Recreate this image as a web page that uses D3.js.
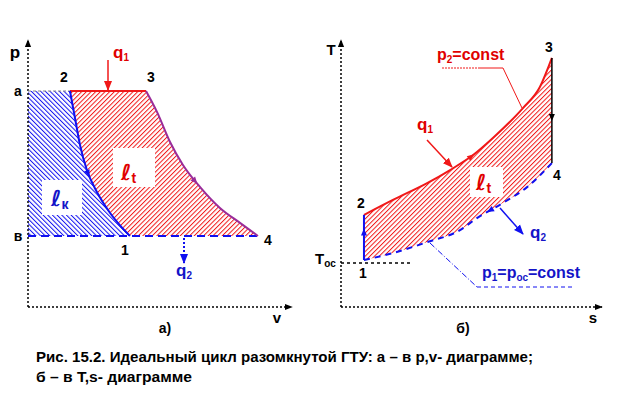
<!DOCTYPE html>
<html>
<head>
<meta charset="utf-8">
<script src="https://cdn.jsdelivr.net/npm/d3@7"></script>
<style>
body{margin:0;background:#fff}
svg text{font-family:"Liberation Sans",Arial,sans-serif;font-weight:bold}
.ell{font-family:"DejaVu Sans","Liberation Sans",sans-serif;font-style:italic;font-weight:bold}
</style>
</head>
<body>
<svg id="chart" width="620" height="394"></svg>
<script>
// p,v-диаграмма: уровни давления и кривые сжатия (2-1) и расширения (3-4)
var pHigh = 0.809, pLow = 0.266;
var compV = [0.159, 0.178, 0.197, 0.223, 0.261, 0.311, 0.386];
var compP = [0.809, 0.708, 0.607, 0.513, 0.431, 0.352, 0.266];
var expV = [0.447, 0.489, 0.538, 0.587, 0.652, 0.727, 0.803, 0.871];
var expP = [0.809, 0.730, 0.618, 0.532, 0.449, 0.371, 0.315, 0.266];
// T,s-диаграмма: подвод тепла (2-3) и отвод тепла (1-4)
var heatS = [0.088, 0.199, 0.330, 0.418, 0.506, 0.582, 0.697, 0.762, 0.808];
var heatT = [0.345, 0.401, 0.464, 0.513, 0.569, 0.633, 0.745, 0.824, 0.933];
var coolS = [0.088, 0.199, 0.330, 0.456, 0.521, 0.621, 0.713, 0.808];
var coolT = [0.176, 0.202, 0.243, 0.288, 0.333, 0.390, 0.449, 0.539];
var tOc = 0.165;
var caption = ["Рис. 15.2. Идеальный цикл разомкнутой ГТУ: а – в p,v- диаграмме;",
	"б – в T,s- диаграмме"];

var RED = '#f01818', BLUE = '#1010f0', PURPLE = '#9a2c9a', TXTRED = '#e00000', TXTBLUE = '#1414c8';
var svg = d3.select('#chart');
var defs = svg.append('defs');

function hatch(id, color, angle){
	defs.append('pattern')
		.attr('id', id)
		.attr('patternUnits', 'userSpaceOnUse')
		.attr('width', 3.3).attr('height', 3.3)
		.attr('patternTransform', 'rotate(' + angle + ')')
		.append('line')
		.attr('x1', 0.5).attr('y1', 0).attr('x2', 0.5).attr('y2', 3.3)
		.attr('stroke', color).attr('stroke-width', 1);
}
hatch('hRed', RED, 45);
hatch('hBlue', BLUE, -45);

function marker(id, color, size){
	defs.append('marker')
		.attr('id', id)
		.attr('viewBox', '0 -5 10 10')
		.attr('refX', 9).attr('refY', 0)
		.attr('markerUnits', 'userSpaceOnUse')
		.attr('markerWidth', size).attr('markerHeight', size)
		.attr('orient', 'auto')
		.append('path')
		.attr('d', 'M0,-4L10,0L0,4Z')
		.attr('fill', color);
}
marker('mBlack', '#000', 8);
marker('mRed', RED, 10);
marker('mBlue', BLUE, 10);

function midArrow(path, frac, color, flip){
	var node = path.node();
	var L = node.getTotalLength();
	var p1 = node.getPointAtLength(L * frac);
	var p0 = node.getPointAtLength(L * frac - 2);
	var ang = Math.atan2(p1.y - p0.y, p1.x - p0.x) * 180 / Math.PI + (flip ? 180 : 0);
	svg.append('path')
		.attr('d', 'M0,0L-7,-3L-7,3Z')
		.attr('fill', color)
		.attr('transform', 'translate(' + p1.x + ',' + p1.y + ') rotate(' + ang + ')');
}

function label(x, y, parts, color, anchor){
	var t = svg.append('text')
		.attr('x', x).attr('y', y)
		.attr('fill', color || '#000')
		.attr('text-anchor', anchor || 'start');
	var shift = 0;
	parts.forEach(function(p){
		var dy = (p.sub ? 3 : 0) - shift;
		shift = p.sub ? 3 : 0;
		t.append('tspan').attr('dy', dy).attr('font-size', p.size || 14).text(p.t);
	});
	return t;
}

function ell(x, y, sub, color){
	var t = svg.append('text').attr('x', x).attr('y', y).attr('fill', color);
	t.append('tspan').attr('class', 'ell').attr('font-size', 22).text('ℓ');
	t.append('tspan').attr('font-size', 14).attr('dy', 3).text(sub);
}

var curve = d3.line().curve(d3.curveMonotoneX);

// ---------- а) p,v ----------
var xL = d3.scaleLinear().domain([0, 1]).range([28, 292]);
var yL = d3.scaleLinear().domain([0, 1]).range([307, 40]);
var compPts = compV.map(function(v, i){ return [xL(v), yL(compP[i])]; });
var expPts = expV.map(function(v, i){ return [xL(v), yL(expP[i])]; });

var compStr = curve(compPts);
var expRev = curve(expPts.slice().reverse()).replace(/^M/, 'L');
svg.append('path')
	.attr('d', compStr + 'L' + xL(0) + ',' + yL(pLow) + 'L' + xL(0) + ',' + yL(pHigh) + 'Z')
	.attr('fill', 'url(#hBlue)');
svg.append('path')
	.attr('d', compStr + 'L' + expPts[expPts.length - 1] + expRev + 'Z')
	.attr('fill', 'url(#hRed)');

svg.append('rect').attr('x', 113).attr('y', 148).attr('width', 42).attr('height', 39).attr('fill', '#fff');
svg.append('rect').attr('x', 42).attr('y', 180).attr('width', 40).attr('height', 35).attr('fill', '#fff');
ell(121, 180, 't', TXTRED);
ell(51, 206, 'к', TXTBLUE);

// axes
svg.append('line')
	.attr('x1', xL(0)).attr('y1', yL(0)).attr('x2', xL(0)).attr('y2', yL(1))
	.attr('stroke', '#000').attr('stroke-width', 1.5).attr('stroke-dasharray', '2,2')
	.attr('marker-end', 'url(#mBlack)');
svg.append('line')
	.attr('x1', xL(0)).attr('y1', yL(0)).attr('x2', xL(1)).attr('y2', yL(0))
	.attr('stroke', '#000').attr('stroke-width', 1.5).attr('stroke-dasharray', '2,2')
	.attr('marker-end', 'url(#mBlack)');

svg.append('line')
	.attr('x1', xL(0)).attr('y1', yL(pHigh)).attr('x2', compPts[0][0]).attr('y2', yL(pHigh))
	.attr('stroke', '#888').attr('stroke-width', 1.2).attr('stroke-dasharray', '3,2');
svg.append('line')
	.attr('x1', xL(0)).attr('y1', yL(pLow)).attr('x2', expPts[expPts.length - 1][0]).attr('y2', yL(pLow))
	.attr('stroke', BLUE).attr('stroke-width', 2).attr('stroke-dasharray', '8,5');
svg.append('line')
	.attr('x1', compPts[0][0]).attr('y1', yL(pHigh)).attr('x2', expPts[0][0]).attr('y2', yL(pHigh))
	.attr('stroke', RED).attr('stroke-width', 2);
var compPath = svg.append('path').attr('d', compStr)
	.attr('fill', 'none').attr('stroke', BLUE).attr('stroke-width', 2);
var expPath = svg.append('path').attr('d', curve(expPts))
	.attr('fill', 'none').attr('stroke', PURPLE).attr('stroke-width', 2);
midArrow(compPath, 0.55, BLUE);
midArrow(expPath, 0.57, PURPLE);

// q1, q2 arrows
svg.append('line').attr('x1', 108).attr('y1', 60).attr('x2', 108).attr('y2', yL(pHigh) - 1)
	.attr('stroke', RED).attr('stroke-width', 1.5).attr('marker-end', 'url(#mRed)');
svg.append('line').attr('x1', 184).attr('y1', yL(pLow) + 2).attr('x2', 184).attr('y2', 263)
	.attr('stroke', BLUE).attr('stroke-width', 2).attr('stroke-dasharray', '2,2').attr('marker-end', 'url(#mBlue)');

label(15, 58, [{t: 'p', size: 17}], '#000', 'middle');
label(18, yL(pHigh) + 5, [{t: 'a'}], '#000', 'middle');
label(18, yL(pLow) + 5, [{t: 'в'}], '#000', 'middle');
label(compPts[0][0] - 6, 82, [{t: '2'}], '#000', 'middle');
label(expPts[0][0] + 5, 82, [{t: '3'}], '#000', 'middle');
label(compPts[compPts.length - 1][0] - 5, 255, [{t: '1'}], '#000', 'middle');
label(expPts[expPts.length - 1][0] + 10, 245, [{t: '4'}], '#000', 'middle');
label(113, 58, [{t: 'q', size: 17}, {t: '1', size: 10, sub: true}], TXTRED);
label(176, 276, [{t: 'q', size: 17}, {t: '2', size: 10, sub: true}], TXTBLUE);
label(277, 323, [{t: 'v', size: 15}], '#000', 'middle');
label(165, 333, [{t: 'а)', size: 14}], '#000', 'middle');

// ---------- б) T,s ----------
var xR = d3.scaleLinear().domain([0, 1]).range([341, 602]);
var yR = d3.scaleLinear().domain([0, 1]).range([307, 40]);
var heatPts = heatS.map(function(s, i){ return [xR(s), yR(heatT[i])]; });
var coolPts = coolS.map(function(s, i){ return [xR(s), yR(coolT[i])]; });
var p2 = heatPts[0], p3 = heatPts[heatPts.length - 1];
var p1 = coolPts[0], p4 = coolPts[coolPts.length - 1];

var heatStr = curve(heatPts);
svg.append('path')
	.attr('d', heatStr + 'L' + p4 + curve(coolPts.slice().reverse()).replace(/^M/, 'L') + 'Z')
	.attr('fill', 'url(#hRed)');
svg.append('rect').attr('x', 470).attr('y', 167).attr('width', 33).attr('height', 30).attr('fill', '#fff');
ell(476, 190, 't', TXTRED);

svg.append('line')
	.attr('x1', xR(0)).attr('y1', yR(0)).attr('x2', xR(0)).attr('y2', yR(1))
	.attr('stroke', '#000').attr('stroke-width', 1.5).attr('stroke-dasharray', '2,2')
	.attr('marker-end', 'url(#mBlack)');
svg.append('line')
	.attr('x1', xR(0)).attr('y1', yR(0)).attr('x2', xR(1)).attr('y2', yR(0))
	.attr('stroke', '#000').attr('stroke-width', 1.5).attr('stroke-dasharray', '2,2')
	.attr('marker-end', 'url(#mBlack)');
svg.append('line')
	.attr('x1', xR(0)).attr('y1', yR(tOc)).attr('x2', 413).attr('y2', yR(tOc))
	.attr('stroke', '#000').attr('stroke-width', 1.5).attr('stroke-dasharray', '3,3');

var heatPath = svg.append('path').attr('d', heatStr)
	.attr('fill', 'none').attr('stroke', RED).attr('stroke-width', 2);
var coolPath = svg.append('path').attr('d', curve(coolPts))
	.attr('fill', 'none').attr('stroke', BLUE).attr('stroke-width', 2).attr('stroke-dasharray', '6,5');
var up12 = svg.append('path').attr('d', 'M' + p1 + 'L' + p2)
	.attr('stroke', BLUE).attr('stroke-width', 2);
var down34 = svg.append('path').attr('d', 'M' + p3 + 'L' + p4)
	.attr('stroke', '#000').attr('stroke-width', 1.5);
midArrow(heatPath, 0.5, RED);
midArrow(coolPath, 0.62, BLUE, true);
midArrow(up12, 0.7, BLUE);
midArrow(down34, 0.6, '#000');

// leaders and heat arrows
svg.append('line').attr('x1', 442).attr('y1', 68).attr('x2', 480).attr('y2', 68)
	.attr('stroke', RED).attr('stroke-width', 1).attr('stroke-dasharray', '2,1');
svg.append('path').attr('d', 'M480,68L503,68L522,108')
	.attr('fill', 'none').attr('stroke', RED).attr('stroke-width', 1);
svg.append('line').attr('x1', 427).attr('y1', 140).attr('x2', 452).attr('y2', 167)
	.attr('stroke', RED).attr('stroke-width', 1.5).attr('marker-end', 'url(#mRed)');
svg.append('line').attr('x1', 500).attr('y1', 208).attr('x2', 523).attr('y2', 234)
	.attr('stroke', BLUE).attr('stroke-width', 1.5).attr('marker-end', 'url(#mBlue)');
svg.append('path').attr('d', 'M430,243L477,287')
	.attr('stroke', BLUE).attr('stroke-width', 1).attr('stroke-dasharray', '6,2,1,2');
svg.append('path').attr('d', 'M477,287L573,287')
	.attr('stroke', BLUE).attr('stroke-width', 1).attr('stroke-dasharray', '4,3');

label(331, 55, [{t: 'T', size: 15}], '#000', 'middle');
label(p3[0] - 3, 52, [{t: '3'}], '#000', 'middle');
label(p4[0] + 5, 180, [{t: '4'}], '#000', 'middle');
label(p2[0] - 3, 208, [{t: '2'}], '#000', 'middle');
label(p1[0] - 1, 278, [{t: '1'}], '#000', 'middle');
label(315, 264, [{t: 'T', size: 15}, {t: 'ос', size: 10, sub: true}], '#000');
label(593, 323, [{t: 's', size: 15}], '#000', 'middle');
label(463, 333, [{t: 'б)', size: 14}], '#000', 'middle');
label(437, 60, [{t: 'p', size: 16}, {t: '2', size: 10, sub: true}, {t: '=const', size: 16}], TXTRED);
label(417, 130, [{t: 'q', size: 17}, {t: '1', size: 10, sub: true}], TXTRED);
label(530, 238, [{t: 'q', size: 17}, {t: '2', size: 10, sub: true}], TXTBLUE);
label(482, 278, [{t: 'p', size: 16}, {t: '1', size: 10, sub: true}, {t: '=p', size: 16},
	{t: 'ос', size: 10, sub: true}, {t: '=const', size: 16}], TXTBLUE);

// подпись
svg.append('text').attr('x', 36).attr('y', 362).attr('font-size', 14)
	.style('font-family', '"Liberation Sans Narrow","Liberation Sans",Arial,sans-serif')
	.attr('textLength', 497).attr('lengthAdjust', 'spacingAndGlyphs').text(caption[0]);
svg.append('text').attr('x', 36).attr('y', 382).attr('font-size', 14)
	.style('font-family', '"Liberation Sans Narrow","Liberation Sans",Arial,sans-serif')
	.attr('textLength', 156).attr('lengthAdjust', 'spacingAndGlyphs').text(caption[1]);
</script>
</body>
</html>
